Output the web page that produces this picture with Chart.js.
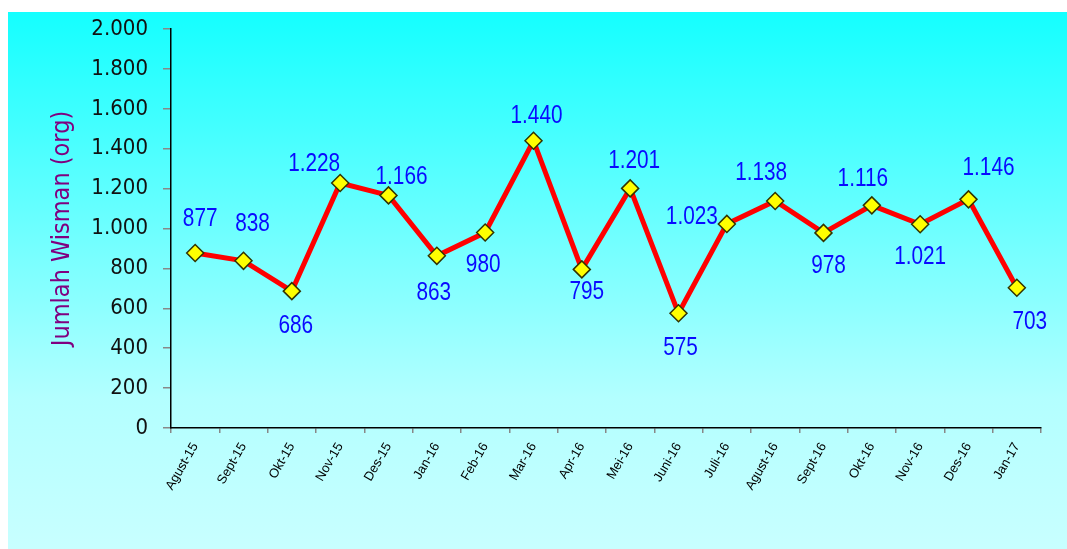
<!DOCTYPE html>
<html>
<head>
<meta charset="utf-8">
<style>
  html, body { margin: 0; padding: 0; background: #fff; }
  #wrap {
    position: absolute; left: 8px; top: 12px; width: 1059px; height: 537px;
    background: linear-gradient(to bottom, #14ffff 0%, #b3ffff 72%, #c8ffff 100%);
  }
</style>
</head>
<body>
<div id="wrap"><canvas id="chart" width="1059" height="537"></canvas></div>
<script src="https://cdn.jsdelivr.net/npm/chart.js"></script>
<script>
  const months = ['Agust-15', 'Sept-15', 'Okt-15', 'Nov-15', 'Des-15', 'Jan-16', 'Feb-16', 'Mar-16', 'Apr-16',
                  'Mei-16', 'Juni-16', 'Juli-16', 'Agust-16', 'Sept-16', 'Okt-16', 'Nov-16', 'Des-16', 'Jan-17'];
  const wisman = [877, 838, 686, 1228, 1166, 863, 980, 1440, 795, 1201, 575, 1023, 1138, 978, 1116, 1021, 1146, 703];
  const yTicks = [0, 200, 400, 600, 800, 1000, 1200, 1400, 1600, 1800, 2000];

  // where each value label sits relative to its point (dx, dy in px)
  const labelOffsets = [[5, -36], [9, -39], [4, 33], [-26, -21], [13, -20], [-3, 35], [-2, 31], [3, -27], [5, 21],
                        [4, -29], [2, 33], [-35, -9], [-14, -30], [5, 31], [-9, -28], [0, 31], [20, -33], [13, 32]];

  const condensed = "'DejaVu Sans Condensed', sans-serif";

  // 1200 -> 1.200
  const fmt = v => String(v).replace(/\B(?=(\d{3})+(?!\d))/g, '.');

  // value labels, squeezed sideways to look like Arial Narrow
  const pointLabels = {
    id: 'pointLabels',
    afterDatasetsDraw(chart) {
      const ctx = chart.ctx;
      const meta = chart.getDatasetMeta(0);
      ctx.save();
      ctx.font = "26px 'Liberation Sans', Arial, sans-serif";
      ctx.fillStyle = '#0a0aff';
      ctx.textAlign = 'center';
      ctx.textBaseline = 'alphabetic';
      meta.data.forEach((pt, i) => {
        const [dx, dy] = labelOffsets[i];
        ctx.save();
        ctx.translate(pt.x + dx, pt.y + dy + 9);
        ctx.scale(0.8, 1);
        ctx.fillText(fmt(wisman[i]), 0, 0);
        ctx.restore();
      });
      ctx.restore();
    }
  };

  const ctx = document.getElementById('chart').getContext('2d');
  const chart = new Chart(ctx, {
    type: 'line',
    data: {
      labels: months,
      datasets: [{
        data: wisman,
        borderColor: '#ff0000',
        borderWidth: 5,
        tension: 0,
        pointStyle: 'rectRot',
        pointRadius: 8.5,
        pointBackgroundColor: '#ffff00',
        pointBorderColor: '#333300',
        pointBorderWidth: 1.5,
        clip: false
      }]
    },
    options: {
      responsive: false,
      animation: false,
      layout: { padding: { top: 17, right: 26, left: 0, bottom: 0 } },
      plugins: {
        legend: { display: false },
        tooltip: { enabled: false }
      },
      scales: {
        x: {
          offset: true,
          grid: { offset: true, drawOnChartArea: false, tickLength: 5, color: '#888', lineWidth: 1.5 },
          border: { display: true, color: '#000', width: 1.5 },
          ticks: {
            color: '#000', autoSkip: false, maxRotation: 60, minRotation: 60, padding: 7,
            font: { family: "'Liberation Sans', Arial, sans-serif", size: 13 }
          },
          afterFit(scale) { scale.height = 121; }
        },
        y: {
          min: 0,
          max: 2000,
          afterBuildTicks(scale) { scale.ticks = yTicks.map(v => ({ value: v })); },
          grid: { drawOnChartArea: false, tickLength: 8, color: '#888', lineWidth: 1.5 },
          border: { color: '#000', width: 1.5 },
          ticks: { color: '#111', padding: 15, font: { family: condensed, size: 22 }, callback: v => fmt(v) },
          title: {
            display: true,
            text: 'Jumlah Wisman (org)',
            color: '#800080',
            font: { family: condensed, size: 25 },
            padding: { top: 39, bottom: 0 }
          },
          afterFit(scale) {
            // fixed axis width, and no extra room above the top tick label
            scale.width = 163;
            scale.paddingTop = 0;
            scale.paddingBottom = 0;
          }
        }
      }
    },
    plugins: [pointLabels]
  });
</script>
</body>
</html>
